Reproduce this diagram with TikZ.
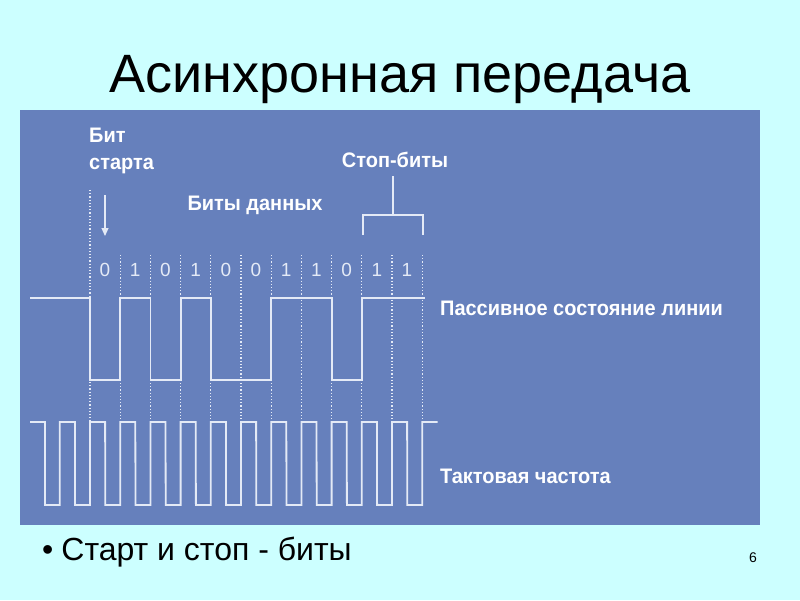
\documentclass[tikz,border=0pt]{standalone}
\usepackage{fontspec}
\setmainfont{Liberation Sans}
\usetikzlibrary{arrows.meta}
\definecolor{bg}{HTML}{CCFFFF}
\definecolor{panel}{HTML}{6680BC}
\definecolor{wave}{HTML}{E4EAF6}
\begin{document}
\begin{tikzpicture}[x=1pt,y=-1pt,
  lbl/.style={text=white,font=\bfseries\fontsize{21}{23}\selectfont,inner sep=0pt,xscale=0.95},
  wv/.style={draw=wave,line width=1.8pt},
  dot/.style={draw=wave,line width=1.2pt,dotted}]
\useasboundingbox[fill=bg] (0,0) rectangle (800,600);
\node[font=\fontsize{54}{58}\selectfont,inner sep=0pt] (title) at (400,80) {Асинхронная передача};
\fill[panel] (20,110) rectangle (760,525);
% dotted bit boundaries
\foreach \i in {1,...,11}{\draw[dot] ({90+30.2*\i},255) -- ({90+30.2*\i},422);}
\draw[dot] (90,190) -- (90,422);
% digits
\foreach \b [count=\i from 0] in {0,1,0,1,0,0,1,1,0,1,1}{
  \node[text=wave,font=\fontsize{19}{21}\selectfont,inner sep=0pt] (d\i) at ({105+30.2*\i},270) {\b};}
% data waveform
\draw[wv] (30,298) -- (90,298) -- (90,380) -- (120.2,380) -- (120.2,298) -- (150.4,298) -- (150.4,380)
  -- (180.6,380) -- (180.6,298) -- (210.8,298) -- (210.8,380) -- (271.2,380) -- (271.2,298)
  -- (331.6,298) -- (331.6,380) -- (361.8,380) -- (361.8,298) -- (425,298);
% clock
\draw[wv] (30,422) -- (44.9,422)
  \foreach \k in {0,...,12}{ -- ({44.9+30.2*\k},505) -- ({59.8+30.2*\k},505) -- ({59.8+30.2*\k},422) -- ({74.9+30.2*\k},422)}
  -- ({44.9+30.2*13},422) -- (436,422);
% labels
\node[lbl,anchor=north west,align=left] (bit) at (89,128) {Бит\\[4pt]старта};
\coordinate (a1) at (105,195);
\coordinate (a2) at (105,236);
\draw[wave,line width=1.2pt,-{Triangle[width=7pt,length=8pt]}] (a1) -- (a2);
\node[lbl] (data) at (255,205) {Биты данных};
\node[lbl] (stop) at (395,160) {Стоп-биты};
\coordinate (s0) at (393,176);
\coordinate (s1) at (393,215);
\draw[wave,line width=1.4pt] (s0) -- (s1) (363,235) -- (363,215) -- (423,215) -- (423,235);
\node[lbl,anchor=west] (pass) at (440,308) {Пассивное состояние линии};
\node[lbl,anchor=west] (clk) at (440,476) {Тактовая частота};
% bullet
\node[font=\fontsize{32}{34}\selectfont,anchor=west,inner sep=0pt] (bul) at (42,552) {\textbullet\hspace{8pt}Старт и стоп - биты};
\node[font=\fontsize{14}{16}\selectfont,inner sep=0pt] (num) at (753,558) {6};
\end{tikzpicture}
\end{document}
